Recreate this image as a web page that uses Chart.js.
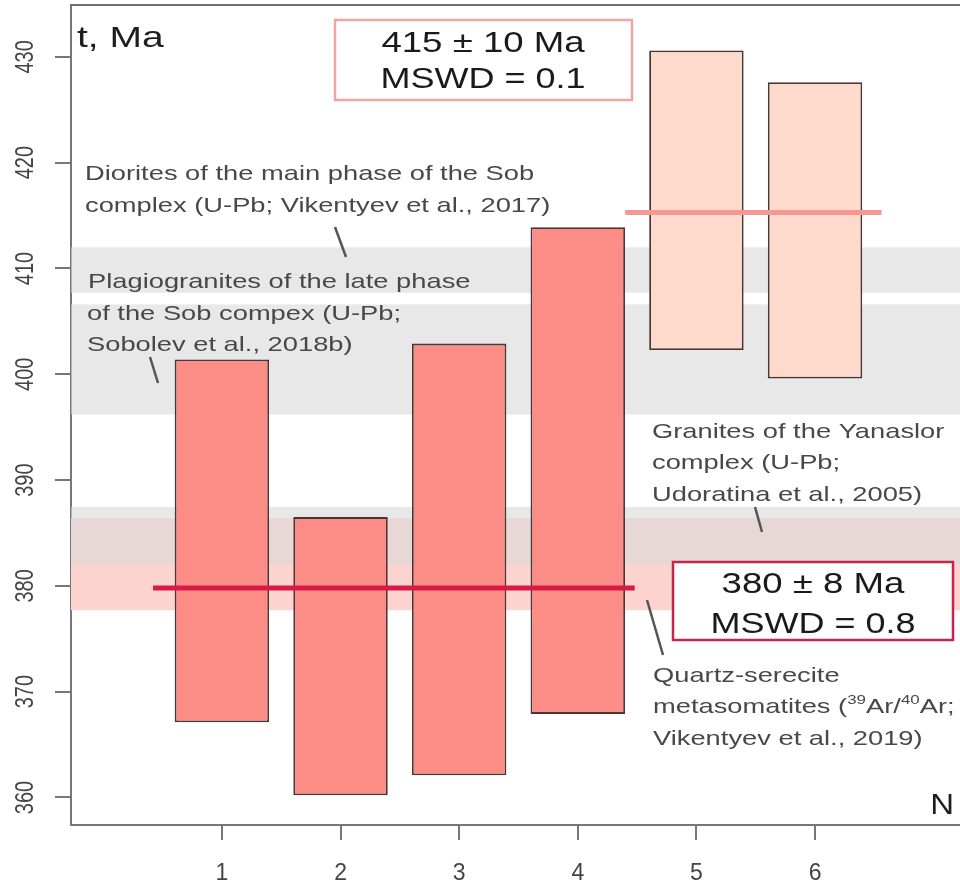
<!DOCTYPE html>
<html><head><meta charset="utf-8">
<script src="https://cdn.jsdelivr.net/npm/chart.js@4.4.1/dist/chart.umd.min.js"></script>
<style>html,body{margin:0;padding:0;background:#fff;}#wrap{width:960px;height:885px;}</style>
</head><body><div id="wrap"><canvas id="c" width="960" height="885"></canvas></div>
<script>
// ---- data ----
const sampleNumbers = [1, 2, 3, 4, 5, 6];
const ageMin = [367.1, 360.2, 362.1, 367.9, 402.3, 399.6];
const ageMax = [401.4, 386.5, 402.9, 413.9, 430.6, 427.6];
const sampleGroup = ['A', 'A', 'A', 'A', 'B', 'B'];
const meanAges = [379.8, 415.3];
const meanFrom = [0.42, 4.40];
const meanTo = [4.48, 6.56];
const meanLabels = [['380 ± 8 Ma', 'MSWD = 0.8'], ['415 ± 10 Ma', 'MSWD = 0.1']];
const grayBandLow = [407.7, 396.2, 382.0];
const grayBandHigh = [412.0, 406.6, 387.45];
const pinkBandLow = [377.7];
const pinkBandHigh = [386.4];
const yTickValues = [360, 370, 380, 390, 400, 410, 420, 430];
const xTickValues = [1, 2, 3, 4, 5, 6];
const yRange = [357.4, 434.9];
const xRange = [-0.272, 7.222];

const FONT = "'Liberation Sans', Arial, sans-serif";
const SX = 1.3;

function sText(ctx, str, x, y, size, color, align, sx) {
  ctx.save();
  ctx.font = size + 'px ' + FONT;
  ctx.fillStyle = color;
  ctx.textBaseline = 'alphabetic';
  ctx.textAlign = 'left';
  const w = ctx.measureText(str).width * sx;
  let left = x;
  if (align === 'center') left = x - w / 2; else if (align === 'right') left = x - w;
  ctx.translate(left, y);
  ctx.scale(sx, 1);
  ctx.fillText(str, 0, 0);
  ctx.restore();
}
function richText(ctx, segs, x, y, size, color, sx) {
  ctx.save();
  ctx.fillStyle = color;
  ctx.textBaseline = 'alphabetic';
  ctx.textAlign = 'left';
  ctx.translate(x, y);
  ctx.scale(sx, 1);
  let cx = 0;
  segs.forEach(s => {
    const fs = s.sup ? Math.round(size * 0.62) : size;
    ctx.font = fs + 'px ' + FONT;
    ctx.fillText(s.t, cx, s.sup ? -size * 0.42 : 0);
    cx += ctx.measureText(s.t).width;
  });
  ctx.restore();
}
function leader(ctx, x1, y1, x2, y2) {
  ctx.save();
  ctx.strokeStyle = '#555';
  ctx.lineWidth = 2.5;
  ctx.beginPath(); ctx.moveTo(x1, y1); ctx.lineTo(x2, y2); ctx.stroke();
  ctx.restore();
}

const deco = {
  id: 'deco',
  beforeDatasetsDraw(chart) {
    const { ctx, chartArea: a, scales: { y } } = chart;
    ctx.save();
    ctx.beginPath(); ctx.rect(a.left, a.top, a.right - a.left, a.bottom - a.top); ctx.clip();
    pinkBandLow.forEach((lo, i) => {
      const t = y.getPixelForValue(pinkBandHigh[i]), b = y.getPixelForValue(lo);
      ctx.fillStyle = '#fdd3cf';
      ctx.fillRect(a.left, t, a.right - a.left, b - t);
    });
    grayBandLow.forEach((lo, i) => {
      const t = y.getPixelForValue(grayBandHigh[i]), b = y.getPixelForValue(lo);
      ctx.fillStyle = 'rgba(218,218,218,0.62)';
      ctx.fillRect(a.left, t, a.right - a.left, b - t);
    });
    ctx.restore();
  },
  afterDraw(chart) {
    const { ctx, chartArea: a, scales: { x, y } } = chart;
    // top frame line
    ctx.save();
    ctx.strokeStyle = '#6f6f6f'; ctx.lineWidth = 2;
    ctx.beginPath(); ctx.moveTo(a.left - 1, a.top); ctx.lineTo(a.right, a.top); ctx.stroke();
    ctx.restore();
    // rotated y tick labels
    y.ticks.forEach(t => {
      const py = y.getPixelForValue(t.value);
      ctx.save();
      ctx.translate(33, py);
      ctx.scale(1.28, 1);
      ctx.rotate(-Math.PI / 2);
      ctx.font = '20px ' + FONT;
      ctx.fillStyle = '#444';
      ctx.textAlign = 'center';
      ctx.textBaseline = 'alphabetic';
      ctx.fillText(String(t.value), 0, 0);
      ctx.restore();
    });
    // axis titles
    sText(ctx, 't, Ma', 77, 47, 30, '#1e1e1e', 'left', SX);
    sText(ctx, 'N', 954, 814, 30, '#1e1e1e', 'right', 1.1);

    // annotations
    const AC = '#484848';
    sText(ctx, 'Diorites of the main phase of the Sob', 85, 180, 21, AC, 'left', SX);
    sText(ctx, 'complex (U-Pb; Vikentyev et al., 2017)', 85, 212, 21, AC, 'left', SX);
    leader(ctx, 335, 227, 346, 257);

    sText(ctx, 'Plagiogranites of the late phase', 88, 288, 21, AC, 'left', SX);
    sText(ctx, 'of the Sob compex (U-Pb;', 87, 320, 21, AC, 'left', SX);
    sText(ctx, 'Sobolev et al., 2018b)', 87, 351, 21, AC, 'left', SX);
    leader(ctx, 150, 357, 158, 383);

    sText(ctx, 'Granites of the Yanaslor', 652, 438, 21, AC, 'left', SX);
    sText(ctx, 'complex (U-Pb;', 652, 469, 21, AC, 'left', SX);
    sText(ctx, 'Udoratina et al., 2005)', 652, 501, 21, AC, 'left', SX);
    leader(ctx, 755, 507, 762, 532);

    sText(ctx, 'Quartz-serecite', 653, 682, 21, AC, 'left', SX);
    richText(ctx, [{ t: 'metasomatites (' }, { t: '39', sup: true }, { t: 'Ar/' }, { t: '40', sup: true }, { t: 'Ar;' }], 653, 713, 21, AC, SX);
    sText(ctx, 'Vikentyev et al., 2019)', 653, 745, 21, AC, 'left', SX);
    leader(ctx, 647, 600, 663, 655);

    // result boxes
    const boxes = [
      { r: [673, 562, 280, 78], col: '#c8244c', lines: meanLabels[0], cx: 813, base: [593, 633] },
      { r: [335, 20, 297, 80], col: '#f4a4a0', lines: meanLabels[1], cx: 483, base: [52, 88] }
    ];
    boxes.forEach(b => {
      ctx.save();
      ctx.fillStyle = '#fff';
      ctx.fillRect(b.r[0], b.r[1], b.r[2], b.r[3]);
      ctx.strokeStyle = b.col; ctx.lineWidth = 2.5;
      ctx.strokeRect(b.r[0], b.r[1], b.r[2], b.r[3]);
      ctx.restore();
      sText(ctx, b.lines[0], b.cx, b.base[0], 30, '#1a1a1a', 'center', 1.22);
      sText(ctx, b.lines[1], b.cx, b.base[1], 30, '#1a1a1a', 'center', 1.2);
    });
  }
};

const barData = sampleNumbers.map((n, i) => ({ x: n, y: [ageMin[i], ageMax[i]] }));
const groupColor = { A: '#fc8c86', B: '#fddacb' };
const meanColor = ['#d81b45', '#f59894'];

const datasets = [{
  type: 'bar',
  data: barData,
  backgroundColor: sampleGroup.map(g => groupColor[g]),
  borderColor: '#4a3434',
  borderWidth: 1.8,
  borderSkipped: false,
  barPercentage: 0.796,
  categoryPercentage: 1,
  grouped: false,
  order: 2
}];
meanAges.forEach((m, i) => {
  datasets.push({
    type: 'line',
    data: [{ x: meanFrom[i], y: m }, { x: meanTo[i], y: m }],
    borderColor: meanColor[i],
    borderWidth: 5,
    pointRadius: 0,
    borderCapStyle: 'butt',
    order: 1
  });
});

new Chart(document.getElementById('c'), {
  data: { datasets },
  options: {
    responsive: false,
    animation: false,
    devicePixelRatio: 1,
    layout: { padding: { top: 5, left: 0, right: 0, bottom: 0 } },
    plugins: { legend: { display: false }, tooltip: { enabled: false } },
    scales: {
      x: {
        type: 'linear',
        offset: false,
        min: xRange[0], max: xRange[1],
        afterBuildTicks: s => { s.ticks = xTickValues.map(v => ({ value: v })); },
        afterFit: s => { s.height = 60; },
        grid: { display: true, offset: false, drawOnChartArea: false, drawTicks: true, tickLength: 15, color: '#777', lineWidth: 2 },
        border: { display: true, color: '#777', width: 2 },
        ticks: { font: { family: FONT, size: 23 }, color: '#444', padding: 20, maxRotation: 0, autoSkip: false }
      },
      y: {
        type: 'linear',
        min: yRange[0], max: yRange[1],
        afterBuildTicks: s => { s.ticks = yTickValues.map(v => ({ value: v })); },
        afterFit: s => { s.width = 71; },
        grid: { display: true, drawOnChartArea: false, drawTicks: true, tickLength: 16, color: '#777', lineWidth: 2 },
        border: { display: true, color: '#777', width: 2 },
        ticks: { display: false }
      }
    }
  },
  plugins: [deco]
});
</script>
</body></html>
